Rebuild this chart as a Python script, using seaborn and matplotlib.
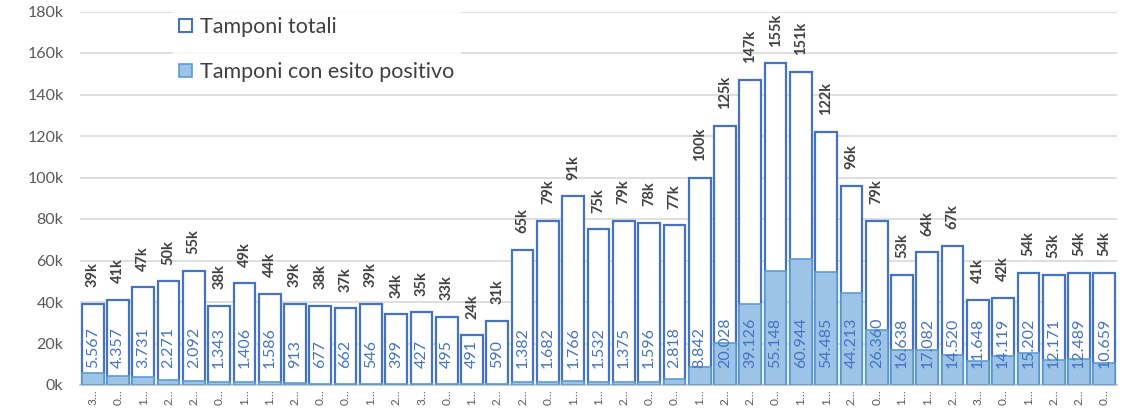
import pandas as pd
import matplotlib
matplotlib.use("Agg")
import matplotlib.pyplot as plt
from matplotlib.patches import Patch
from matplotlib.ticker import FuncFormatter, FixedLocator
import seaborn as sns

# Dati
etichette = ["3", "0", "1", "2", "2", "0", "1", "1", "2", "0", "0", "1", "2", "3",
             "0", "1", "2", "2", "0", "1", "1", "2", "0", "0", "1", "2", "2", "0",
             "1", "1", "2", "0", "1", "1", "2", "3", "0", "1", "2", "2", "0"]
tamponi_totali = [39, 41, 47, 50, 55, 38, 49, 44, 39, 38, 37, 39, 34, 35, 33, 24, 31,
                  65, 79, 91, 75, 79, 78, 77, 100, 125, 147, 155, 151, 122, 96, 79,
                  53, 64, 67, 41, 42, 54, 53, 54, 54]
tamponi_positivi = [5567, 4357, 3731, 2271, 2092, 1343, 1406, 1586, 913, 677, 662, 546,
                    399, 427, 495, 491, 590, 1382, 1682, 1766, 1532, 1375, 1596, 2818,
                    8842, 20028, 39126, 55148, 60944, 54485, 44213, 26360, 16638, 17082,
                    14520, 11648, 14119, 15202, 12171, 12489, 10659]

df = pd.DataFrame({
    'idx': range(len(etichette)),
    'totali': [v * 1000 for v in tamponi_totali],
    'positivi': tamponi_positivi,
})

sns.set_style("white")
plt.rcParams['font.family'] = ['Lato', 'DejaVu Sans']

fig = plt.figure(figsize=(11.3, 4.08), dpi=100)
ax = fig.add_axes([80 / 1130, 1 - 385 / 408, 1037 / 1130, 373.5 / 408])

blu = '#4472C4'
sns.barplot(data=df, x='idx', y='totali', color='white', edgecolor=blu,
            linewidth=1.6, width=0.86, saturation=1, ax=ax, zorder=2)
sns.barplot(data=df, x='idx', y='positivi', color='#9DC3E6', edgecolor='#5B9BD5',
            linewidth=1.2, width=0.86, saturation=1, ax=ax, zorder=3)

# Etichette dati
for i, (t, p) in enumerate(zip(tamponi_totali, tamponi_positivi)):
    ax.annotate(f"{t}k", (i, t * 1000), xytext=(0, 12), textcoords='offset points',
                rotation=90, ha='center', va='bottom', fontsize=10.5,
                fontweight='bold', color='#404040', zorder=5)
    testo = f"{p:,}".replace(",", ".")
    ax.annotate(testo, (i, 0), xytext=(0, 12), textcoords='offset points',
                rotation=90, ha='center', va='bottom', fontsize=11.5,
                color=blu, zorder=5)

ax.set_ylim(0, 180000)
ax.set_xlim(-0.5, len(etichette) - 0.5)
ax.yaxis.set_major_locator(FixedLocator(range(0, 180001, 20000)))
ax.yaxis.set_major_formatter(FuncFormatter(lambda v, _: f"{int(v / 1000)}k"))
ax.grid(axis='y', color='#d9d9d9', linewidth=1.2, zorder=0)
ax.set_axisbelow(True)
ax.set_xlabel('')
ax.set_ylabel('')
ax.set_xticks(range(len(etichette)))
ax.set_xticklabels([e + "…" for e in etichette], rotation=90)
ax.set_xticks([i - 0.5 for i in range(len(etichette) + 1)], minor=True)
ax.tick_params(axis='x', which='major', length=0, pad=3, labelsize=8.5, labelcolor='#595959')
ax.tick_params(axis='x', which='minor', length=5, color='#bfbfbf', width=1)
ax.tick_params(axis='y', length=0, pad=12, labelsize=11.5, labelcolor='#595959')
for s in ['top', 'right', 'left']:
    ax.spines[s].set_visible(False)
ax.spines['bottom'].set_color('#bfbfbf')
ax.spines['bottom'].set_linewidth(1.2)

handles = [Patch(facecolor='white', edgecolor=blu, linewidth=1.5),
           Patch(facecolor='#9DC3E6', edgecolor='#5B9BD5', linewidth=1.2)]
leg = ax.legend(handles, ['Tamponi totali', 'Tamponi con esito positivo'],
                loc='upper left', bbox_to_anchor=(162 / 1130, 1.0),
                bbox_transform=fig.transFigure, fontsize=15.5, frameon=True,
                handlelength=0.6, handleheight=0.6, handletextpad=0.35,
                labelspacing=1.15, borderpad=0.3, fancybox=False)
leg.get_frame().set_edgecolor('white')
leg.get_frame().set_facecolor('white')
leg.set_zorder(6)
for t in leg.get_texts():
    t.set_color('#404040')

fig.savefig('out.png', dpi=100)
